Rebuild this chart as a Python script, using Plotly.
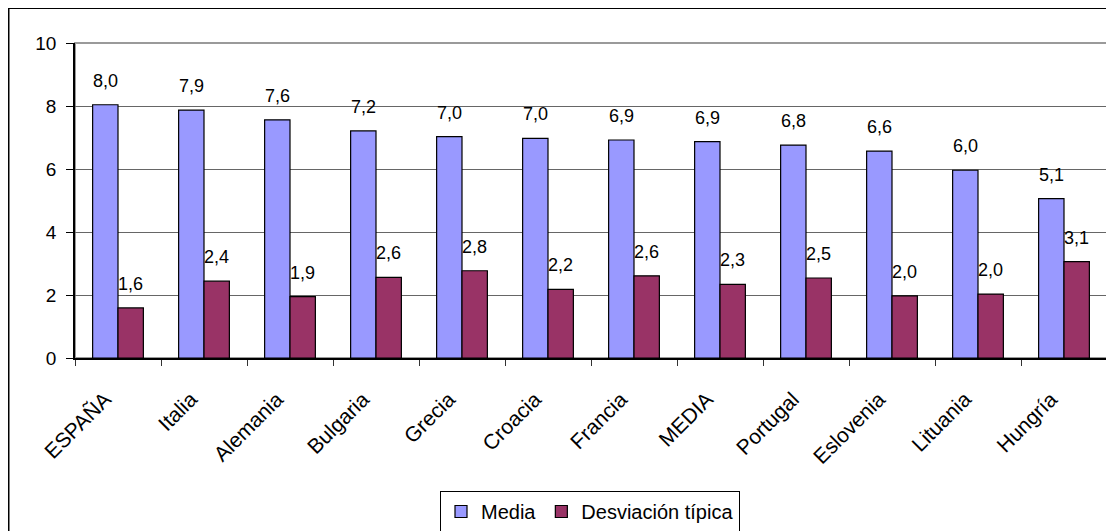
import plotly.graph_objects as go

categories = ["ESPAÑA", "Italia", "Alemania", "Bulgaria", "Grecia", "Croacia",
              "Francia", "MEDIA", "Portugal", "Eslovenia", "Lituania", "Hungría"]
media = [8.04, 7.87, 7.56, 7.21, 7.03, 6.97, 6.92, 6.87, 6.76, 6.57, 5.96, 5.06]
desviacion = [1.59, 2.44, 1.95, 2.56, 2.77, 2.18, 2.61, 2.34, 2.54, 1.97, 2.03, 3.06]
y_ticks = [0, 2, 4, 6, 8, 10]

FONT = "Liberation Sans, Arial, sans-serif"
# page body has an 8px margin, so the figure is sized to the visible area
W, H = 1106, 523
L, R, T, B = 67, 7, 35, 173
pw, ph = W - L - R, H - T - B

fig = go.Figure()
fig.add_trace(go.Bar(name="Media", x=categories, y=media,
                     marker=dict(color="#9999FF", line=dict(color="black", width=1.2))))
fig.add_trace(go.Bar(name="Desviación típica", x=categories, y=desviacion,
                     marker=dict(color="#993366", line=dict(color="black", width=1.2))))

annotations = []
for c, m, d in zip(categories, media, desviacion):
    for val, xs in ((m, -12.5), (d, 12.5)):
        annotations.append(dict(x=c, y=val, xref="x", yref="y",
                                text=f"{val:.1f}".replace(".", ","),
                                showarrow=False, xshift=xs, yshift=24,
                                yanchor="middle",
                                font=dict(family=FONT, size=18, color="black")))

shapes = [
    dict(type="rect", xref="paper", yref="paper", x0=0, y0=0, x1=1, y1=1,
         line=dict(color="#9a9a9a", width=2), layer="below"),
    dict(type="rect", xref="paper", yref="paper",
         x0=(0.75 - L) / pw, y0=-(H + 20 - T - ph) / ph,
         x1=(W + 20 - L) / pw, y1=1 + (T - 0.25) / ph,
         line=dict(color="black", width=1.5)),
]

fig.update_layout(
    width=W, height=H,
    margin=dict(l=L, r=R, t=T, b=B, autoexpand=False),
    paper_bgcolor="white", plot_bgcolor="white",
    barmode="group", bargap=0.41, bargroupgap=0,
    font=dict(family=FONT, size=18, color="black"),
    showlegend=True,
    legend=dict(orientation="h", xref="container", yref="container",
                x=582 / W, xanchor="center", y=1 - 483 / H, yanchor="top",
                bordercolor="black", borderwidth=1, bgcolor="white",
                font=dict(family=FONT, size=20), itemwidth=30, traceorder="normal"),
    annotations=annotations,
    shapes=shapes,
    xaxis=dict(type="category", tickangle=-45, ticks="outside", ticklen=6,
               tickcolor="#333", tickson="boundaries", showgrid=False,
               showline=True, linecolor="black", linewidth=1.5,
               automargin=False, ticklabelstandoff=19, ticklabelshift=-13,
               tickfont=dict(family=FONT, size=21)),
    yaxis=dict(range=[0, 10], tickvals=y_ticks, ticks="outside", ticklen=7,
               tickcolor="black", showgrid=True, gridcolor="#666", gridwidth=1,
               showline=True, linecolor="black", linewidth=1.5, zeroline=False,
               automargin=False, ticklabelstandoff=6,
               tickfont=dict(family=FONT, size=19)),
)

fig.write_html("out.html")
